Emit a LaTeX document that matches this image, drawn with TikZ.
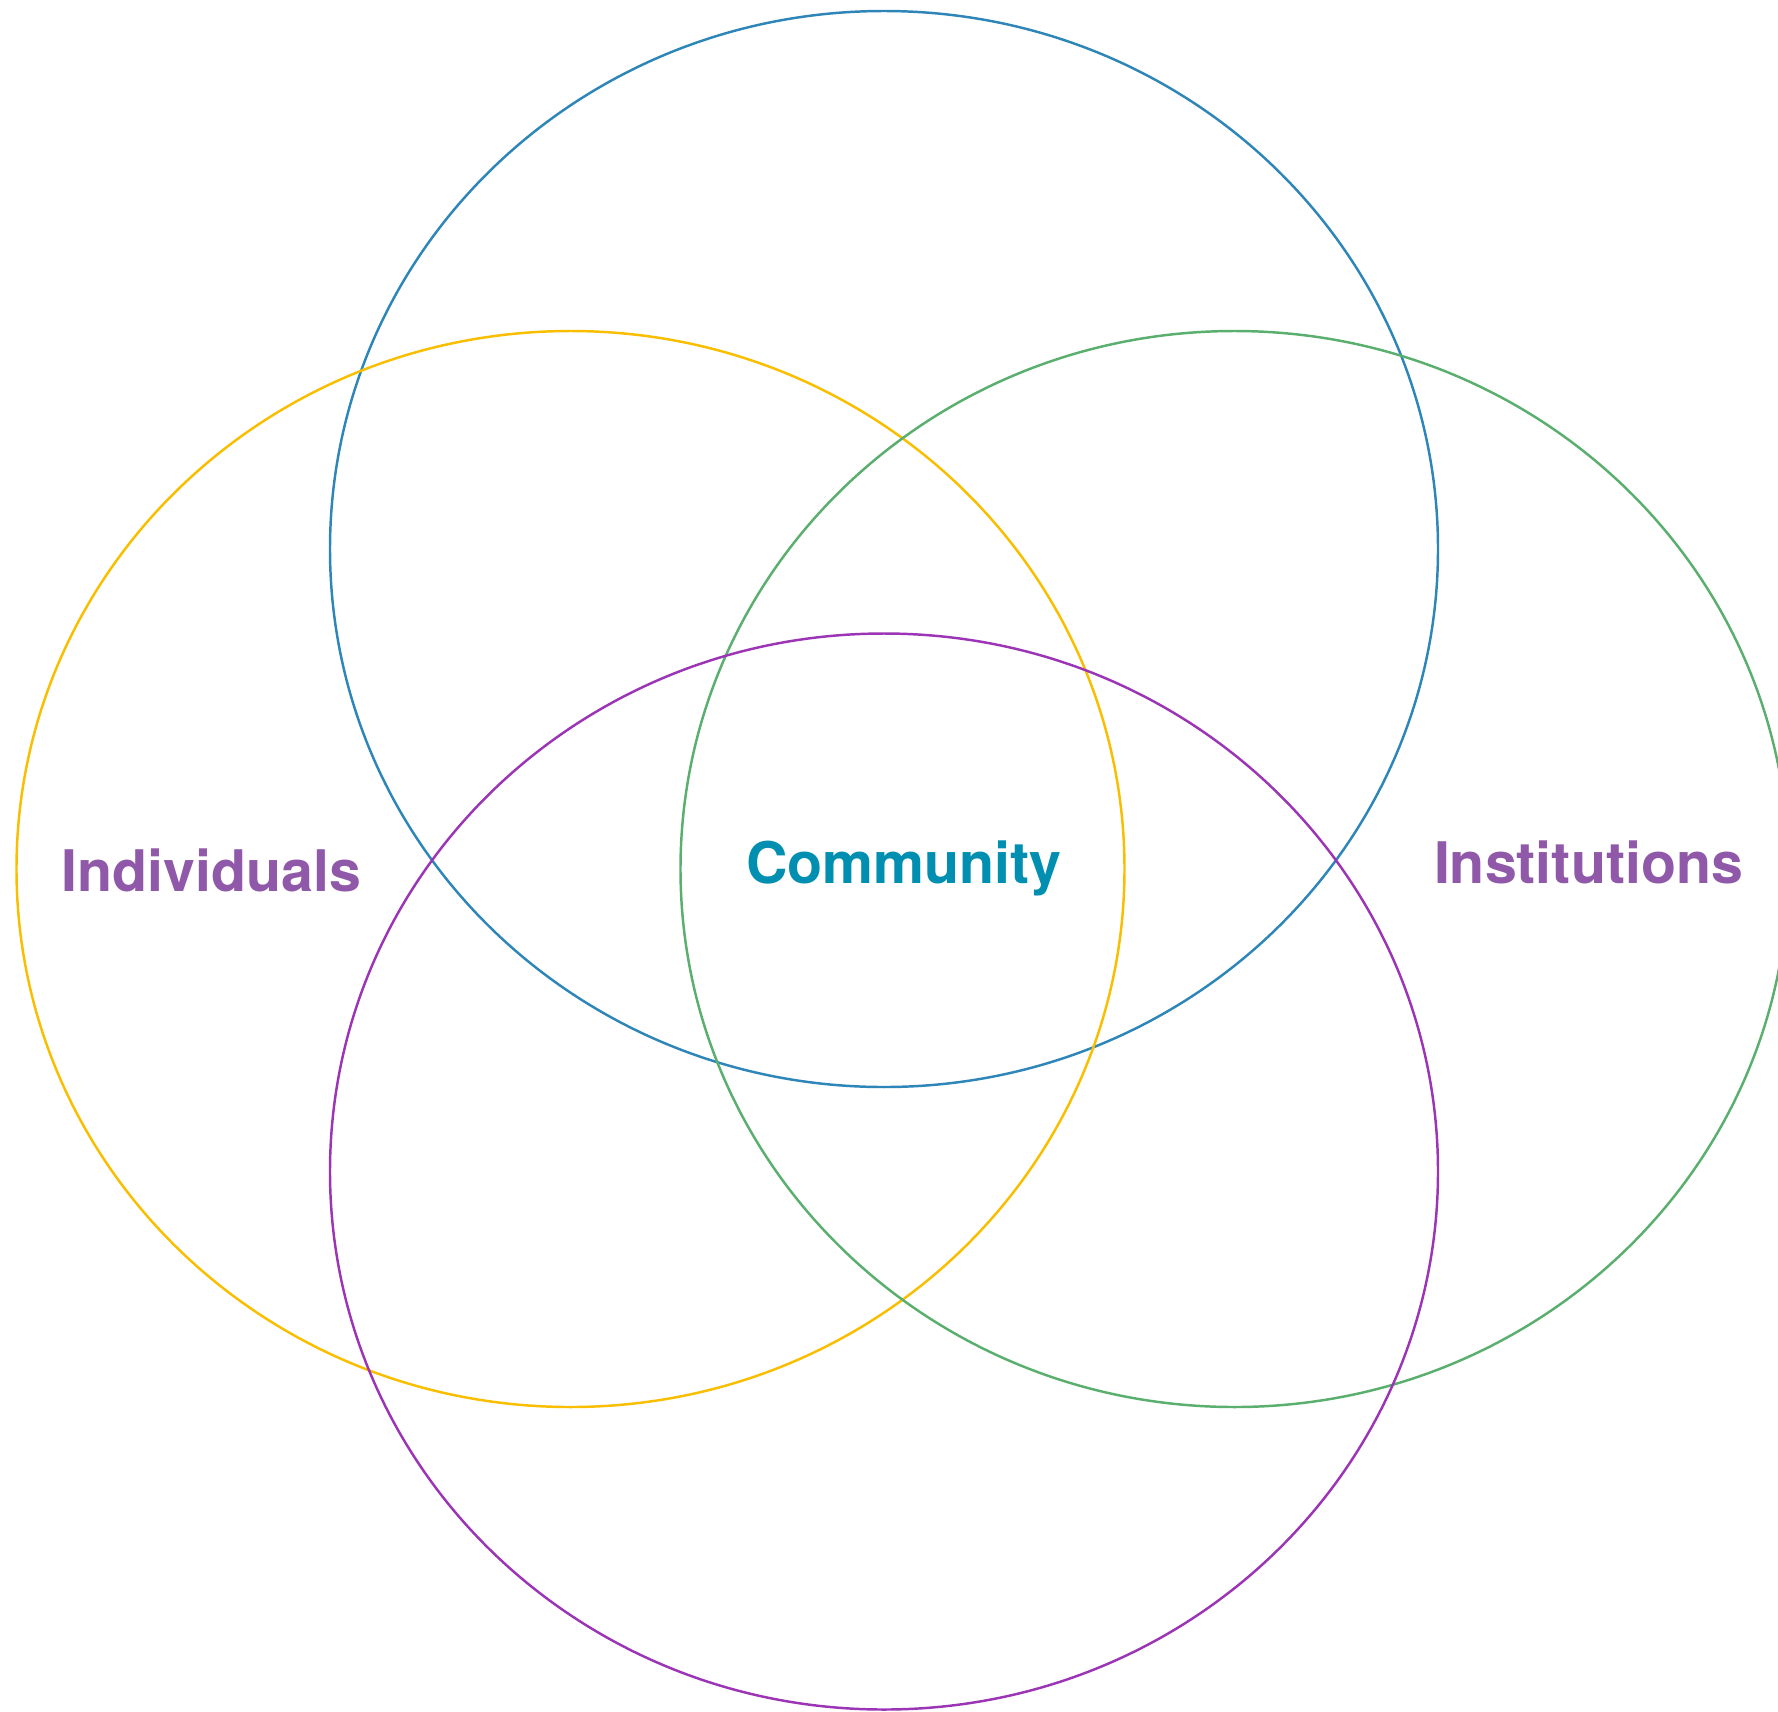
\documentclass[tikz,border=0pt]{standalone}
\usepackage{fontspec}
\setmainfont{TeX Gyre Heros}
\usepackage{tikz}

\definecolor{ringblue}{HTML}{2E86B8}
\definecolor{ringyellow}{HTML}{F9BE00}
\definecolor{ringgreen}{HTML}{5AAE6E}
\definecolor{ringpurple}{HTML}{9B35B5}
\definecolor{textpurple}{HTML}{9058A8}
\definecolor{textteal}{HTML}{008FB0}

\begin{document}
\begin{tikzpicture}[x=0.01cm,y=-0.01cm,
        ring/.style={line width=0.7pt},
        label/.style={anchor=base,inner sep=0pt,font=\fontsize{16.3}{18}\selectfont\bfseries}]
        \useasboundingbox (0,0) rectangle (1778,1711);
        \clip (0,0) rectangle (1778,1711);

        \draw[ring,ringblue]   (884,549)    ellipse [x radius=554,y radius=538];
        \draw[ring,ringyellow] (570.5,869)  ellipse [x radius=554,y radius=538];
        \draw[ring,ringgreen]  (1234.5,869) ellipse [x radius=554,y radius=538];
        \draw[ring,ringpurple] (884,1171.5) ellipse [x radius=554,y radius=538];

        \node[label,text=textpurple] (indiv) at (211.5,891) {Individuals};
        \node[label,text=textteal]   (comm)  at (904,883)   {Community};
        \node[label,text=textpurple] (inst)  at (1588.5,883) {Institutions};
\end{tikzpicture}
\end{document}
